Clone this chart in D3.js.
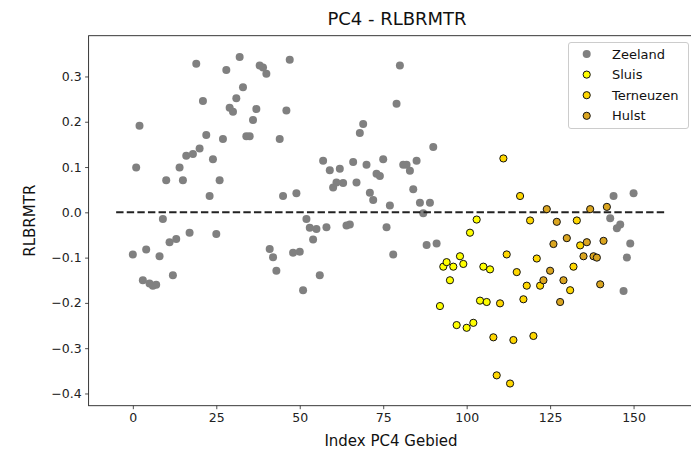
<!DOCTYPE html>
<html>
<head>
<meta charset="utf-8">
<script src="https://cdn.jsdelivr.net/npm/d3@7"></script>
<style>
  html, body { margin: 0; padding: 0; background: #fff; }
  svg { display: block; font-family: "DejaVu Sans", sans-serif; }
</style>
</head>
<body>
<svg id="chart" width="691" height="451"></svg>
<script>
// ---- data ----
const zeelandIdx = [0,1,2,3,4,5,6,7,8,9,10,11,12,13,14,15,16,17,18,19,20,21,22,23,24,25,26,27,28,29,30,
  31,32,33,34,35,36,37,38,39,40,41,42,43,44,45,46,47,48,49,50,51,52,53,54,55,56,57,58,59,60,
  61,62,63,64,65,66,67,68,69,70,71,72,73,74,75,76,77,78,79,80,81,82,83,84,85,86,87,88,89,90,91,
  143,144,145,146,147,148,149,150];
const zeelandVal = [-0.093,0.099,0.191,-0.150,-0.082,-0.157,-0.162,-0.160,-0.097,-0.015,0.071,-0.066,-0.139,-0.059,0.099,0.071,
  0.125,-0.045,0.129,0.328,0.141,0.246,0.171,0.036,0.117,-0.048,0.071,0.162,0.314,0.231,0.222,
  0.252,0.343,0.276,0.168,0.168,0.204,0.228,0.324,0.320,0.306,-0.081,-0.099,-0.129,0.162,0.036,
  0.225,0.337,-0.089,0.042,-0.087,-0.172,-0.015,-0.034,-0.060,-0.037,-0.139,0.114,-0.033,0.093,0.055,
  0.066,0.096,0.065,-0.029,-0.027,0.111,0.066,0.175,0.195,0.105,0.043,0.027,0.085,0.080,0.117,
  -0.033,0.015,-0.093,0.240,0.324,0.105,0.105,0.092,0.051,0.114,0.021,-0.002,-0.072,0.021,0.144,-0.069,
  -0.013,0.036,-0.035,-0.027,-0.174,-0.100,-0.069,0.042];

const sluisIdx = [92,93,94,95,96,97,98,99,100,101,102,103,104,105,106,107];
const sluisVal = [-0.207,-0.120,-0.110,-0.150,-0.120,-0.249,-0.097,-0.114,-0.255,-0.045,-0.244,-0.016,-0.195,-0.120,-0.198,-0.126];

const terneuzenIdx = [108,109,110,111,112,113,114,115,116,117,118,119,120,121,122,131,132,133,134];
const terneuzenVal = [-0.276,-0.360,-0.201,0.119,-0.093,-0.378,-0.282,-0.132,0.036,-0.192,-0.162,-0.018,-0.273,-0.102,-0.162,
  -0.172,-0.120,-0.018,-0.073];

const hulstIdx = [123,124,125,126,127,128,129,130,135,136,137,138,139,140,141,142];
const hulstVal = [-0.150,0.007,-0.129,-0.070,-0.021,-0.198,-0.150,-0.057,-0.097,-0.066,0.007,-0.097,-0.100,-0.159,-0.063,0.012];

const xTicks = [0,25,50,75,100,125,150];
const yTicks = [-0.4,-0.3,-0.2,-0.1,0.0,0.1,0.2,0.3];
const hlineX = [-5,160];

const seriesNames = ["Zeeland","Sluis","Terneuzen","Hulst"];
const seriesColors = ["#808080","#ffff00","#ffd700","#daa520"];

const titleText = "PC4 - RLBRMTR";
const xLabel = "Index PC4 Gebied";
const yLabel = "RLBRMTR";

// ---- layout ----
const svg = d3.select("#chart");
const mLeft = 88.6, mTop = 35.7, mRight = 694.5, mBottom = 405.7;

const x = d3.scaleLinear().domain([-13.25, 168.25]).range([mLeft, mRight]);
const y = d3.scaleLinear().domain([-0.427, 0.390]).range([mBottom, mTop]);

const toPts = (ix, vals) => ix.map((d, i) => ({x: d, y: vals[i]}));

// title
svg.append("text").attr("x", 397).attr("y", 25).attr("text-anchor", "middle")
  .attr("font-size", 18).attr("fill", "#111").text(titleText);

// axes
const xAxis = d3.axisBottom(x).tickValues(xTicks).tickFormat(d3.format("d")).tickSize(3.5).tickPadding(3.5);
const yAxis = d3.axisLeft(y).tickValues(yTicks).tickFormat(d => d3.format(".1f")(d).replace("-", "\u2212")).tickSize(3.5).tickPadding(3.5);

const gx = svg.append("g").attr("transform", `translate(0,${mBottom})`).call(xAxis);
const gy = svg.append("g").attr("transform", `translate(${mLeft},0)`).call(yAxis);
[gx, gy].forEach(g => {
  g.select(".domain").remove();
  g.selectAll(".tick line").attr("stroke", "#222").attr("stroke-width", 0.8);
  g.selectAll(".tick text").attr("fill", "#222").attr("font-size", 12.5).attr("font-family", "DejaVu Sans, sans-serif");
});

// spines
svg.append("rect").attr("x", mLeft).attr("y", mTop).attr("width", mRight - mLeft).attr("height", mBottom - mTop)
  .attr("fill", "none").attr("stroke", "#222").attr("stroke-width", 0.9);

// axis labels
svg.append("text").attr("x", 391).attr("y", 446).attr("text-anchor", "middle")
  .attr("font-size", 15).attr("fill", "#111").text(xLabel);
svg.append("text").attr("transform", `translate(35,${(mTop + mBottom) / 2}) rotate(-90)`)
  .attr("text-anchor", "middle").attr("font-size", 15).attr("fill", "#111").text(yLabel);

const plot = svg.append("g");

// Zeeland (grey)
plot.selectAll("circle.z").data(toPts(zeelandIdx, zeelandVal)).join("circle")
  .attr("class", "z").attr("cx", d => x(d.x)).attr("cy", d => y(d.y)).attr("r", 4)
  .attr("fill", seriesColors[0]);

// dashed zero line
plot.append("line").attr("x1", x(hlineX[0])).attr("x2", x(hlineX[1]))
  .attr("y1", y(0)).attr("y2", y(0))
  .attr("stroke", "#222").attr("stroke-width", 2).attr("stroke-dasharray", "7.4,3.2");

// coloured series
[[sluisIdx, sluisVal, 1], [terneuzenIdx, terneuzenVal, 2], [hulstIdx, hulstVal, 3]].forEach(([ix, vals, k]) => {
  plot.selectAll(`circle.s${k}`).data(toPts(ix, vals)).join("circle")
    .attr("class", `s${k}`).attr("cx", d => x(d.x)).attr("cy", d => y(d.y)).attr("r", 3.6)
    .attr("fill", seriesColors[k]).attr("stroke", "#111").attr("stroke-width", 1);
});

// legend
const lg = svg.append("g");
lg.append("rect").attr("x", 568.5).attr("y", 42.5).attr("width", 120).attr("height", 86).attr("rx", 2.5)
  .attr("fill", "#fff").attr("fill-opacity", 0.8).attr("stroke", "#ccc").attr("stroke-width", 1);
seriesNames.forEach((name, i) => {
  const cy = 54 + i * 20.6;
  const c = lg.append("circle").attr("cx", 586.7).attr("cy", cy).attr("r", i === 0 ? 4 : 3.6)
    .attr("fill", seriesColors[i]);
  if (i > 0) c.attr("stroke", "#111").attr("stroke-width", 1);
  lg.append("text").attr("x", 612).attr("y", cy + 4.6).attr("font-size", 13).attr("fill", "#111").text(name);
});
</script>
</body>
</html>
